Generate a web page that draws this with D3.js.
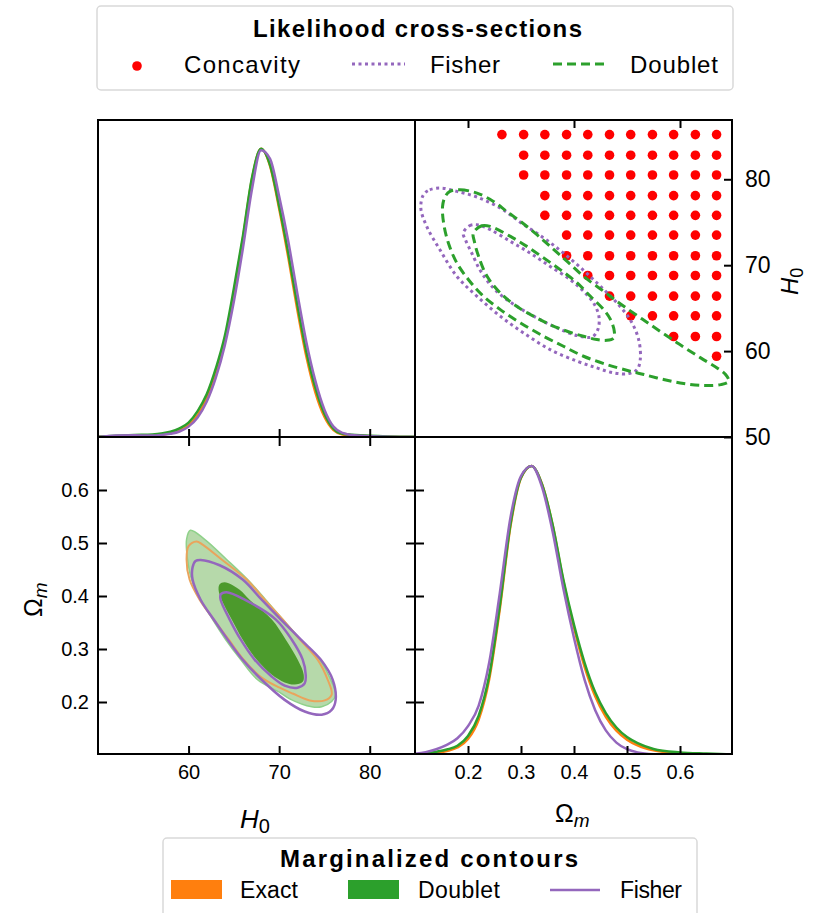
<!DOCTYPE html>
<html>
<head>
<meta charset="utf-8">
<script src="https://cdn.jsdelivr.net/npm/d3@7"></script>
<style>
body { margin: 0; background: #fff; }
text { font-family: "Liberation Sans", Arial, sans-serif; fill: #000; }
</style>
</head>
<body>
<div id="chart"></div>
<script>
// ---- data ----
// 1D marginal of H0 (density, peak = 1)
var h0Grid = [50,52,54,56,57,58,59,60,61,62,63,64,65,66,67,68,69,70,71,72,73,74,75,76,77,78,80,82,85];
var h0Exact   = [0.001,0.002,0.004,0.006,0.008,0.013,0.022,0.040,0.076,0.132,0.220,0.333,0.500,0.688,0.895,1.0,0.940,0.793,0.625,0.443,0.280,0.155,0.070,0.024,0.009,0.006,0.003,0.001,0.0];
var h0Doublet = [0.001,0.004,0.007,0.009,0.012,0.018,0.030,0.050,0.090,0.148,0.237,0.350,0.515,0.698,0.900,1.0,0.943,0.802,0.640,0.461,0.297,0.171,0.081,0.029,0.011,0.008,0.004,0.002,0.001];
var h0Fisher  = [0.0,0.005,0.006,0.005,0.007,0.011,0.019,0.036,0.068,0.122,0.205,0.318,0.470,0.655,0.860,0.995,0.965,0.835,0.680,0.500,0.330,0.195,0.095,0.036,0.014,0.007,0.003,0.001,0.0];

// 1D marginal of Omega_m
var omGrid = [0.10,0.12,0.14,0.16,0.18,0.20,0.22,0.24,0.26,0.28,0.30,0.32,0.34,0.36,0.38,0.40,0.42,0.44,0.46,0.48,0.50,0.52,0.55,0.60,0.65,0.70];
var omExact   = [0.001,0.003,0.007,0.014,0.026,0.055,0.122,0.262,0.505,0.790,0.958,1.0,0.935,0.792,0.600,0.440,0.305,0.203,0.132,0.084,0.053,0.033,0.016,0.006,0.002,0.001];
var omDoublet = [0.002,0.005,0.011,0.019,0.032,0.066,0.135,0.274,0.516,0.797,0.960,1.0,0.934,0.794,0.606,0.450,0.319,0.217,0.145,0.095,0.062,0.041,0.021,0.009,0.005,0.002];
var omFisher  = [0.004,0.010,0.020,0.035,0.058,0.100,0.170,0.320,0.560,0.820,0.965,1.0,0.925,0.770,0.575,0.405,0.260,0.155,0.085,0.043,0.020,0.009,0.003,0.001,0,0];

// marginalized 2D contours, [H0, Omega_m]
var doublet95 = [[60.2,0.524],[61.77,0.507],[64.20,0.469],[66.52,0.431],[68.51,0.393],[70.39,0.356],[72.38,0.318],[74.48,0.280],[75.69,0.242],[76.24,0.214],[75.80,0.201],[74.70,0.191],[73.59,0.191],[71.16,0.206],[70.06,0.218],[67.62,0.242],[65.75,0.280],[64.09,0.318],[62.65,0.356],[61.33,0.393],[60.33,0.431],[59.89,0.469],[59.78,0.507]];
var doublet68 = [[63.98,0.426],[65.64,0.412],[66.74,0.393],[69.17,0.356],[70.72,0.318],[72.04,0.280],[72.71,0.252],[72.60,0.238],[71.71,0.233],[70.61,0.237],[69.17,0.252],[67.51,0.280],[65.97,0.318],[64.75,0.356],[63.65,0.393],[63.31,0.412],[63.43,0.422]];
var exact95 = [[60.88,0.503],[61.55,0.497],[63.65,0.469],[66.41,0.431],[68.40,0.393],[70.39,0.356],[72.27,0.318],[74.25,0.280],[75.36,0.242],[75.80,0.214],[75.03,0.203],[73.37,0.203],[71.49,0.216],[70.06,0.227],[68.07,0.246],[66.08,0.280],[64.42,0.318],[62.76,0.356],[61.22,0.393],[60.11,0.431],[59.78,0.469],[60.00,0.494]];
var fisher95 = [[61.33,0.468],[63.43,0.458],[65.97,0.431],[68.07,0.393],[70.17,0.356],[72.38,0.318],[74.59,0.280],[75.91,0.242],[76.24,0.204],[75.80,0.185],[74.70,0.176],[72.82,0.182],[70.61,0.204],[68.07,0.242],[65.97,0.280],[64.31,0.318],[62.76,0.356],[61.33,0.393],[60.44,0.431],[60.44,0.454],[60.77,0.466]];
var fisher68 = [[64.20,0.407],[66.19,0.393],[69.61,0.356],[71.38,0.318],[72.60,0.280],[72.93,0.252],[72.82,0.235],[72.04,0.227],[70.61,0.231],[69.17,0.248],[67.29,0.280],[65.75,0.318],[64.53,0.356],[63.54,0.393],[63.54,0.403]];

// likelihood cross-sections, [Omega_m, H0]
var xsDoublet95 = [[0.166,78.59],[0.185,78.78],[0.217,78.39],[0.248,77.42],[0.273,76.26],[0.299,75.10],[0.330,73.55],[0.362,71.80],[0.387,70.45],[0.418,68.70],[0.456,66.96],[0.494,65.21],[0.544,63.08],[0.595,60.95],[0.639,59.21],[0.670,58.04],[0.686,57.27],[0.692,56.49],[0.677,56.10],[0.645,55.99],[0.607,56.22],[0.569,56.69],[0.532,57.27],[0.506,57.66],[0.462,58.43],[0.418,59.40],[0.380,60.56],[0.343,61.72],[0.299,63.28],[0.261,64.83],[0.226,66.57],[0.201,68.31],[0.179,70.25],[0.163,72.58],[0.154,74.90],[0.152,76.84],[0.157,78.0]];
var xsDoublet68 = [[0.210,73.74],[0.226,74.59],[0.242,74.52],[0.280,73.35],[0.311,72.19],[0.343,70.83],[0.374,69.48],[0.406,67.93],[0.431,66.38],[0.456,64.83],[0.469,63.66],[0.476,62.31],[0.475,61.53],[0.462,61.26],[0.443,61.34],[0.418,61.72],[0.387,62.31],[0.355,63.08],[0.324,64.05],[0.292,65.21],[0.261,66.76],[0.236,68.70],[0.220,71.03],[0.212,72.77]];
var xsFisher95 = [[0.116,78.2],[0.128,78.78],[0.150,78.97],[0.179,78.59],[0.217,77.93],[0.261,76.65],[0.299,74.98],[0.343,73.16],[0.380,71.42],[0.418,69.40],[0.450,67.54],[0.481,65.60],[0.506,63.66],[0.522,61.34],[0.525,59.01],[0.519,57.85],[0.503,57.38],[0.475,57.46],[0.443,58.04],[0.406,58.82],[0.355,60.17],[0.305,62.11],[0.261,64.05],[0.217,66.38],[0.179,68.70],[0.147,71.80],[0.122,74.52],[0.111,76.65]];
var xsFisher68 = [[0.191,73.74],[0.203,74.59],[0.217,74.71],[0.242,74.13],[0.280,72.77],[0.317,71.42],[0.355,69.86],[0.393,68.31],[0.418,66.96],[0.437,65.60],[0.447,64.05],[0.445,62.50],[0.434,61.65],[0.406,61.80],[0.368,62.69],[0.330,63.86],[0.292,65.21],[0.254,66.96],[0.226,69.09],[0.207,71.42],[0.195,72.97]];

// concavity grid: columns (Omega_m), rows (H0), first filled column of each row
var concavityOm = [0.264,0.305,0.345,0.386,0.426,0.467,0.507,0.548,0.588,0.629,0.669,0.710];
var concavityH0 = [85.2,82.8,80.5,78.1,75.8,73.5,71.1,68.8,66.4,64.1,61.7,59.4];
var concavityFirst = [0,1,1,2,2,3,3,4,5,6,8,10];

var h0Ticks = [60,70,80];
var omTicks = [0.2,0.3,0.4,0.5,0.6];
var h0RightTicks = [50,60,70,80];
var omTopTicks = [0.2,0.4,0.6];

var topLegendTitle = "Likelihood cross-sections";
var topLegendLabels = ["Concavity","Fisher","Doublet"];
var bottomLegendTitle = "Marginalized contours";
var bottomLegendLabels = ["Exact","Doublet","Fisher"];

var cExact = "#ff7f0e", cDoublet = "#2ca02c", cFisher = "#9467bd";

// ---- layout ----
var W = 815, H = 913;
var x0 = 98, x1 = 415, x2 = 733;
var y0 = 120, y1 = 437, y2 = 755;

var svg = d3.select("#chart").append("svg")
  .attr("width", W).attr("height", H);

var h0X = d3.scaleLinear().domain([50,85]).range([x0,x1]);
var omY = d3.scaleLinear().domain([0.1,0.7]).range([y2,y1]);
var omX = d3.scaleLinear().domain([0.1,0.7]).range([x1,x2]);
var h0Y = d3.scaleLinear().domain([50,86.9]).range([y1,y0]);
var pdfTop = d3.scaleLinear().domain([0,1.1]).range([y1,y0]);
var pdfBot = d3.scaleLinear().domain([0,1.1]).range([y2,y1]);

var defs = svg.append("defs");
function clip(id, x, y, w, h){
  defs.append("clipPath").attr("id", id).append("rect")
    .attr("x", x).attr("y", y).attr("width", w).attr("height", h);
  return svg.append("g").attr("clip-path", "url(#" + id + ")");
}
var gTL = clip("cTL", x0, y0, x1-x0, y1-y0);
var gTR = clip("cTR", x1, y0, x2-x1, y1-y0);
var gBL = clip("cBL", x0, y1, x1-x0, y2-y1);
var gBR = clip("cBR", x1, y1, x2-x1, y2-y1);

// ---- top left: H0 marginal ----
function pdfPath(grid, sx, sy){
  return d3.line()
    .x(function(d,i){ return sx(grid[i]); })
    .y(function(d){ return sy(d); })
    .curve(d3.curveMonotoneX);
}
[[h0Exact,cExact],[h0Doublet,cDoublet],[h0Fisher,cFisher]].forEach(function(s){
  gTL.append("path").datum(s[0])
    .attr("fill","none").attr("stroke",s[1]).attr("stroke-width",2.5)
    .attr("d", pdfPath(h0Grid, h0X, pdfTop));
});

// ---- bottom right: Omega_m marginal ----
[[omExact,cExact],[omDoublet,cDoublet],[omFisher,cFisher]].forEach(function(s){
  gBR.append("path").datum(s[0])
    .attr("fill","none").attr("stroke",s[1]).attr("stroke-width",2.5)
    .attr("d", pdfPath(omGrid, omX, pdfBot));
});

// ---- bottom left: 2D contours ----
var contourBL = d3.line()
  .x(function(d){ return h0X(d[0]); })
  .y(function(d){ return omY(d[1]); })
  .curve(d3.curveCatmullRomClosed.alpha(0.5));

gBL.append("path").datum(doublet95)
  .attr("fill","#b6d9aa").attr("stroke","#8fd18a").attr("stroke-width",1.5)
  .attr("d", contourBL);
gBL.append("path").datum(exact95)
  .attr("fill","none").attr("stroke","#eaa45c").attr("stroke-width",2)
  .attr("d", contourBL);
gBL.append("path").datum(doublet68)
  .attr("fill","#4c9a2c").attr("stroke","none")
  .attr("d", contourBL);
[fisher95, fisher68].forEach(function(c){
  gBL.append("path").datum(c)
    .attr("fill","none").attr("stroke",cFisher).attr("stroke-width",2.5)
    .attr("d", contourBL);
});

// ---- top right: likelihood cross-sections ----
var dots = [];
concavityH0.forEach(function(h, r){
  for (var c = concavityFirst[r]; c < concavityOm.length; c++) dots.push([concavityOm[c], h]);
});
gTR.selectAll("circle.conc").data(dots).enter().append("circle")
  .attr("class","conc")
  .attr("cx", function(d){ return omX(d[0]); })
  .attr("cy", function(d){ return h0Y(d[1]); })
  .attr("r", 4.8).attr("fill","#ff0000");

var contourTR = d3.line()
  .x(function(d){ return omX(d[0]); })
  .y(function(d){ return h0Y(d[1]); })
  .curve(d3.curveCatmullRomClosed.alpha(0.5));

[xsFisher95, xsFisher68].forEach(function(c){
  gTR.append("path").datum(c)
    .attr("fill","none").attr("stroke",cFisher).attr("stroke-width",3)
    .attr("stroke-dasharray","3,3.5")
    .attr("d", contourTR);
});
[xsDoublet95, xsDoublet68].forEach(function(c){
  gTR.append("path").datum(c)
    .attr("fill","none").attr("stroke",cDoublet).attr("stroke-width",3)
    .attr("stroke-dasharray","9,5")
    .attr("d", contourTR);
});

// ---- axes / ticks ----
function tidy(g, size){
  g.select(".domain").remove();
  g.selectAll(".tick line").attr("stroke","#000").attr("stroke-width",2);
  g.selectAll(".tick text").style("font-size", size + "px")
    .style("font-family", '"Liberation Sans", Arial, sans-serif').attr("fill","#000");
}
function ticks(axis, tx, ty, size){
  var g = svg.append("g").attr("transform","translate(" + tx + "," + ty + ")").call(axis);
  tidy(g, size || 20);
  return g;
}
var f1 = d3.format(".1f"), fd = d3.format("d");

// top-left: ticks at bottom
ticks(d3.axisBottom(h0X).tickValues(h0Ticks).tickSize(-8).tickFormat(""), 0, y1);
// bottom-left
ticks(d3.axisTop(h0X).tickValues(h0Ticks).tickSize(-9).tickFormat(""), 0, y1);
ticks(d3.axisBottom(h0X).tickValues(h0Ticks).tickSize(-9).tickPadding(10).tickFormat(fd), 0, y2);
ticks(d3.axisLeft(omY).tickValues(omTicks).tickSize(-9).tickPadding(9).tickFormat(f1), x0, 0);
ticks(d3.axisRight(omY).tickValues(omTicks).tickSize(-9).tickFormat(""), x1, 0);
// bottom-right
ticks(d3.axisLeft(omY).tickValues(omTicks).tickSize(-9).tickFormat(""), x1, 0);
ticks(d3.axisBottom(omX).tickValues(omTicks).tickSize(-9).tickPadding(10).tickFormat(f1), 0, y2);
// top-right
ticks(d3.axisBottom(omX).tickValues(omTopTicks).tickSize(8).tickFormat(""), 0, y0);
ticks(d3.axisRight(h0Y).tickValues(h0RightTicks).tickSize(-9).tickPadding(12).tickFormat(fd), x2, 0, 23);

// panel frames
[[x0,y0],[x1,y0],[x0,y1],[x1,y1]].forEach(function(p){
  svg.append("rect").attr("x",p[0]).attr("y",p[1])
    .attr("width",x1-x0).attr("height",y1-y0)
    .attr("fill","none").attr("stroke","#000").attr("stroke-width",2);
});

// ---- axis labels ----
function label(tx, ty, rot, main, sub, mainItalic, subItalic, mainSize, subSize){
  var t = svg.append("text")
    .attr("transform","translate(" + tx + "," + ty + ")" + (rot ? " rotate(" + rot + ")" : ""));
  t.append("tspan").text(main).style("font-size", mainSize + "px")
    .style("font-style", mainItalic ? "italic" : "normal");
  t.append("tspan").text(sub).attr("dy", 5).style("font-size", subSize + "px")
    .style("font-style", subItalic ? "italic" : "normal");
}
label(240, 828, 0, "H", "0", true, false, 26, 20);
label(555, 822, 0, "\u03A9", "m", false, true, 25, 19);
label(42, 617, -90, "\u03A9", "m", false, true, 25, 19);
label(798, 295, -90, "H", "0", true, false, 24, 18);

// ---- legends ----
var lgTop = svg.append("g");
lgTop.append("rect").attr("x",97).attr("y",6).attr("width",636).attr("height",84)
  .attr("rx",4).attr("fill","#fff").attr("stroke","#d9d9d9").attr("stroke-width",1.5);
lgTop.append("text").attr("x",253).attr("y",37)
  .attr("textLength",329).attr("lengthAdjust","spacing")
  .style("font-size","24px").style("font-weight","bold").text(topLegendTitle);
lgTop.append("circle").attr("cx",137).attr("cy",66).attr("r",4.8).attr("fill","#ff0000");
lgTop.append("line").attr("x1",352).attr("x2",405).attr("y1",64).attr("y2",64)
  .attr("stroke",cFisher).attr("stroke-width",3).attr("stroke-dasharray","3,3.5");
lgTop.append("line").attr("x1",553).attr("x2",606).attr("y1",64).attr("y2",64)
  .attr("stroke",cDoublet).attr("stroke-width",3).attr("stroke-dasharray","9,5");
var topTextX = [184,430,630], topTextLen = [116,70,88];
topTextX.forEach(function(x,i){
  lgTop.append("text").attr("x",x).attr("y",73)
    .attr("textLength",topTextLen[i]).attr("lengthAdjust","spacing")
    .style("font-size","24px").text(topLegendLabels[i]);
});

var lgBot = svg.append("g");
lgBot.append("rect").attr("x",163).attr("y",838).attr("width",534).attr("height",90)
  .attr("rx",4).attr("fill","#fff").attr("stroke","#d9d9d9").attr("stroke-width",1.5);
lgBot.append("text").attr("x",280).attr("y",867)
  .attr("textLength",298).attr("lengthAdjust","spacing")
  .style("font-size","24px").style("font-weight","bold").text(bottomLegendTitle);
lgBot.append("rect").attr("x",171).attr("y",880).attr("width",51).attr("height",19).attr("fill",cExact);
lgBot.append("rect").attr("x",348).attr("y",880).attr("width",51).attr("height",19).attr("fill",cDoublet);
lgBot.append("line").attr("x1",550).attr("x2",600).attr("y1",890).attr("y2",890)
  .attr("stroke",cFisher).attr("stroke-width",2.5);
var botTextX = [240,418,620], botTextLen = [58,82,62];
botTextX.forEach(function(x,i){
  lgBot.append("text").attr("x",x).attr("y",898)
    .attr("textLength",botTextLen[i]).attr("lengthAdjust","spacing")
    .style("font-size","23px").text(bottomLegendLabels[i]);
});
</script>
</body>
</html>
